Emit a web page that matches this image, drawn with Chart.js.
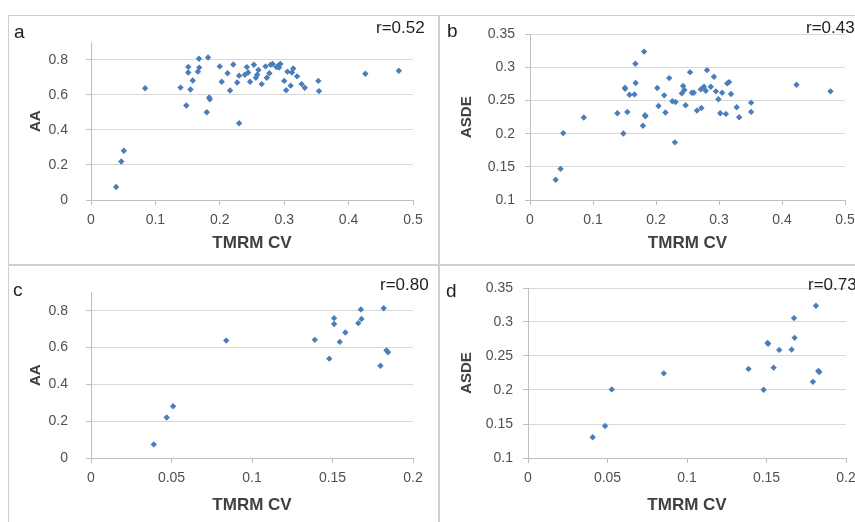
<!DOCTYPE html>
<html>
<head>
<meta charset="utf-8">
<script src="https://cdn.jsdelivr.net/npm/chart.js@4"></script>
<style>
  html, body { margin: 0; padding: 0; background: #fff; }
  body { width: 855px; height: 522px; position: relative; overflow: hidden; font-family: 'Liberation Sans', Arial, sans-serif; }
  .panel { position: absolute; }
  .line { position: absolute; background: #cfcfcf; }
  .tag { position: absolute; font-size: 19px; color: #222; line-height: 1; }
  .r { position: absolute; font-size: 17px; color: #222; line-height: 1; white-space: nowrap; }
</style>
</head>
<body>
<div class="line" style="left:8px;top:15px;width:847px;height:1px"></div>
<div class="line" style="left:8px;top:264px;width:847px;height:2px"></div>
<div class="line" style="left:8px;top:15px;width:1px;height:507px"></div>
<div class="line" style="left:438px;top:15px;width:2px;height:507px"></div>

<div class="panel" style="left:9px;top:16px"><canvas id="chartA" width="429" height="248"></canvas></div>
<div class="panel" style="left:440px;top:16px"><canvas id="chartB" width="440" height="248"></canvas></div>
<div class="panel" style="left:9px;top:266px"><canvas id="chartC" width="429" height="256"></canvas></div>
<div class="panel" style="left:440px;top:266px"><canvas id="chartD" width="440" height="256"></canvas></div>

<div class="tag" style="left:14px;top:22px">a</div>
<div class="r" style="left:376px;top:19px">r=0.52</div>
<div class="tag" style="left:447px;top:21px">b</div>
<div class="r" style="left:806px;top:19px">r=0.43</div>
<div class="tag" style="left:13px;top:280px">c</div>
<div class="r" style="left:380px;top:276px">r=0.80</div>
<div class="tag" style="left:446px;top:281px">d</div>
<div class="r" style="left:808px;top:276px">r=0.73</div>

<script>
// TMRM CV vs AA (panel a, all cells)
const cvA = [0.039, 0.047, 0.051, 0.084, 0.139, 0.148, 0.151, 0.151, 0.1545, 0.158,
  0.166, 0.168, 0.1676, 0.1798, 0.1818, 0.1835, 0.1845,
  0.200, 0.203, 0.212, 0.216, 0.221, 0.227, 0.230, 0.230, 0.239, 0.242,
  0.244, 0.247, 0.253, 0.256, 0.258, 0.260, 0.265, 0.271, 0.273, 0.277,
  0.279, 0.282, 0.288, 0.291, 0.292, 0.294, 0.300, 0.303, 0.305, 0.310,
  0.312, 0.314, 0.320, 0.327, 0.332, 0.353, 0.354, 0.426, 0.478];
const aa = [0.074, 0.22, 0.281, 0.638, 0.642, 0.54, 0.76, 0.728, 0.631, 0.682,
  0.733, 0.756, 0.807, 0.501, 0.814, 0.585, 0.575,
  0.763, 0.675, 0.724, 0.625, 0.774, 0.671, 0.438, 0.710, 0.715, 0.759,
  0.728, 0.675, 0.772, 0.698, 0.715, 0.742, 0.662, 0.763, 0.698, 0.724,
  0.772, 0.777, 0.759, 0.768, 0.756, 0.777, 0.680, 0.627, 0.733, 0.653,
  0.728, 0.751, 0.706, 0.662, 0.641, 0.680, 0.622, 0.721, 0.738];

// TMRM CV vs ASDE (panel b, all cells)
const cvB = [0.0407, 0.0485, 0.0527, 0.0854, 0.1387, 0.1482, 0.1507, 0.151, 0.1545, 0.158,
  0.1658, 0.1673, 0.1677, 0.1792, 0.1811, 0.1826, 0.1832,
  0.202, 0.204, 0.213, 0.215, 0.221, 0.226, 0.230, 0.231, 0.241, 0.243,
  0.245, 0.247, 0.254, 0.257, 0.260, 0.265, 0.271, 0.272, 0.276, 0.279,
  0.281, 0.287, 0.292, 0.295, 0.299, 0.302, 0.305, 0.311, 0.313, 0.316,
  0.319, 0.328, 0.332, 0.351, 0.351, 0.423, 0.477];
const asde = [0.1305, 0.147, 0.2009, 0.2245, 0.231, 0.2004, 0.2693, 0.268, 0.2329, 0.259,
  0.2594, 0.3057, 0.2767, 0.212, 0.324, 0.228, 0.2265,
  0.269, 0.242, 0.258, 0.232, 0.284, 0.249, 0.187, 0.248, 0.261, 0.272,
  0.266, 0.243, 0.293, 0.262, 0.262, 0.235, 0.267, 0.239, 0.271, 0.265,
  0.296, 0.271, 0.286, 0.264, 0.252, 0.231, 0.262, 0.230, 0.276, 0.278,
  0.260, 0.240, 0.225, 0.247, 0.233, 0.274, 0.264];

// panels c and d only show cells with TMRM CV below 0.2
const cvCutoff = 0.2;

const aaTicks = { min: 0, max: 0.9, step: 0.2 };
const asdeTicks = { min: 0.1, max: 0.35, step: 0.05 };
const xWide = { min: 0, max: 0.5, step: 0.1 };
const xNarrow = { min: 0, max: 0.2, step: 0.05 };

Chart.defaults.font.family = "'Liberation Sans', Arial, sans-serif";
Chart.defaults.color = '#505050';

function toPoints(xs, ys, limit) {
  const pts = [];
  xs.forEach((x, i) => {
    if (limit === undefined || x < limit) pts.push({ x: x, y: ys[i] });
  });
  return pts;
}

function fmt(v) {
  return String(parseFloat(v.toFixed(2)));
}

// box = chart area inside the canvas: left, right, top, bottom
function makeChart(id, points, xr, yr, yTitle, box, yPad, padB) {
  const canvas = document.getElementById(id);
  const W = canvas.width, H = canvas.height;
  const padL = 10;
  new Chart(canvas, {
    type: 'scatter',
    data: {
      datasets: [{
        data: points,
        backgroundColor: '#4a7ebb',
        borderColor: '#4a7ebb',
        borderWidth: 0,
        pointStyle: 'rectRot',
        pointRadius: 3.2,
        pointHoverRadius: 3.2
      }]
    },
    options: {
      responsive: false,
      animation: false,
      events: [],
      layout: { padding: { left: padL, top: box.top, right: W - box.right, bottom: padB } },
      plugins: { legend: { display: false }, tooltip: { enabled: false } },
      scales: {
        x: {
          type: 'linear',
          min: xr.min, max: xr.max,
          afterFit: s => { s.height = H - box.bottom - padB; },
          ticks: { stepSize: xr.step, includeBounds: false, padding: 7, font: { size: 14 }, callback: fmt, maxRotation: 0 },
          grid: { drawOnChartArea: false, drawTicks: true, tickLength: 5, tickColor: '#bfbfbf' },
          border: { color: '#bfbfbf', width: 1 },
          title: { display: true, text: 'TMRM CV', color: '#404040', font: { size: 17, weight: 'bold' }, padding: { top: 2, bottom: 4 } }
        },
        y: {
          type: 'linear',
          min: yr.min, max: yr.max,
          afterFit: s => { s.width = box.left - padL; },
          ticks: { stepSize: yr.step, includeBounds: false, padding: yPad, font: { size: 14 }, callback: fmt },
          grid: { color: '#d9d9d9', drawTicks: true, tickLength: 5, tickColor: '#bfbfbf' },
          border: { color: '#bfbfbf', width: 1 },
          title: { display: true, text: yTitle, color: '#404040', font: { size: 15, weight: 'bold' }, padding: { top: 8, bottom: 2 } }
        }
      }
    }
  });
}

makeChart('chartA', toPoints(cvA, aa), xWide, aaTicks, 'AA',
  { left: 82, right: 404, top: 14, bottom: 184 }, 18, 6);
makeChart('chartB', toPoints(cvB, asde), xWide, asdeTicks, 'ASDE',
  { left: 90, right: 405, top: 15, bottom: 184 }, 10, 6);
makeChart('chartC', toPoints(cvA, aa, cvCutoff), xNarrow, aaTicks, 'AA',
  { left: 82, right: 404, top: 22, bottom: 192 }, 18, 2);
makeChart('chartD', toPoints(cvB, asde, cvCutoff), xNarrow, asdeTicks, 'ASDE',
  { left: 88, right: 406, top: 22, bottom: 192 }, 10, 2);
</script>
</body>
</html>
